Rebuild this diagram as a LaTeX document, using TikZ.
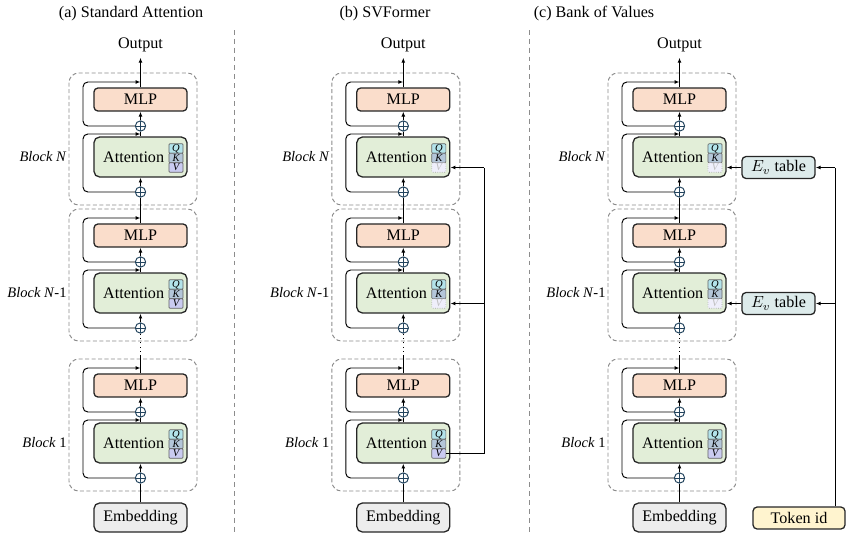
\documentclass[tikz,border=0pt]{standalone}
\usepackage{fontspec}
\setmainfont{Liberation Serif}
\usepackage{amsmath}
\usetikzlibrary{arrows.meta,positioning,calc}

\definecolor{mlpfill}{HTML}{FADDCB}
\definecolor{attnfill}{HTML}{E2EED8}
\definecolor{embfill}{HTML}{EDEDED}
\definecolor{evfill}{HTML}{DDEBEB}
\definecolor{tokfill}{HTML}{FFF4CF}
\definecolor{qfill}{HTML}{B3E3EA}
\definecolor{kfill}{HTML}{B4C6D9}
\definecolor{vfill}{HTML}{CACBF1}
\definecolor{plusc}{HTML}{23445E}

\begin{document}
\begin{tikzpicture}[x=0.62pt, y=-0.62pt,
  box/.style={draw=black!85, line width=0.8pt, rounded corners=2.5pt, minimum width=57.7pt, inner sep=0pt},
  mlpbox/.style={box, fill=mlpfill, minimum height=14.3pt},
  attnbox/.style={box, fill=attnfill, minimum height=24.8pt, rounded corners=3.5pt},
  embbox/.style={box, fill=embfill, minimum height=18pt, rounded corners=3.5pt},
  evbox/.style={box, fill=evfill, minimum width=45.3pt, minimum height=13.6pt},
  tokbox/.style={box, fill=tokfill, minimum width=57pt, minimum height=13.6pt},
  qkv/.style={draw=black!60, line width=0.4pt, rounded corners=0.6pt, minimum width=8.7pt, minimum height=5.9pt, inner sep=0pt, font=\fontsize{6.5}{6.5}\selectfont\itshape},
  vbox/.style={qkv, fill=vfill},
  vfade/.style={qkv, draw=black!35, densely dotted, fill=vfill!30, text=black!25},
  plus/.style={circle, draw=plusc, line width=0.6pt, minimum size=6.4pt, inner sep=0pt,
    path picture={\draw[plusc, line width=0.6pt] (path picture bounding box.north) -- (path picture bounding box.south)
      (path picture bounding box.west) -- (path picture bounding box.east);}},
  blk/.style={draw=black!45, dash pattern=on 2.5pt off 1.5pt, line width=0.6pt, rounded corners=6pt},
  sep/.style={draw=black!45, dash pattern=on 3pt off 2.5pt, line width=0.6pt},
  lbl/.style={font=\small, anchor=east, inner sep=1pt},
  arr/.style={-{Latex[length=3pt,width=2.4pt]}, line width=0.6pt},
  ln/.style={line width=0.6pt}
]
\useasboundingbox (0,0) rectangle (852,540);

% titles and separators
\node (ttl-a) at (131,14) {(a) Standard Attention};
\node (ttl-b) at (385,14) {(b) SVFormer};
\node (ttl-c) at (594,14) {(c) Bank of Values};
\draw[sep] (234,30) -- (234,532);
\draw[sep] (529,30) -- (529,532);

% three stacks of blocks
\foreach \p/\cx/\fd in {a/140.5/0, b/403.3/1, c/679.5/1} {
  \foreach \b/\m/\vk/\txt in {top/88/1/{\textit{Block N}}, mid/224/1/{\textit{Block N}-1}, one/374/0/{\textit{Block} 1}} {
    \draw[blk] (\cx-71.5,\m-15) rectangle (\cx+56.5,\m+117);
    \node[mlpbox] (mlp-\p\b) at (\cx,\m+11.5) {MLP};
    \node[plus] (pa-\p\b) at (\cx,\m+38) {};
    \node[attnbox] (attn-\p\b) at (\cx,\m+69) {Attention\kern8.5pt};
    \node[plus] (pb-\p\b) at (\cx,\m+104) {};
    \node[qkv, fill=qfill] (q-\p\b) at (\cx+35.5,\m+60.5) {Q};
    \node[qkv, fill=kfill] (k-\p\b) at (\cx+35.5,\m+70) {K};
    \pgfmathtruncatemacro\fade{\fd*\vk}
    \ifnum\fade=1 \tikzset{vst/.style={vfade}}\else\tikzset{vst/.style={vbox}}\fi
    \node[vst] (v-\p\b) at (\cx+35.5,\m+79.5) {V};
    \node[lbl] (lbl-\p\b) at (\cx-72,\m+69) {\txt};
    \coordinate (ina-\p\b) at (\cx,\m-6);
    \coordinate (inb-\p\b) at (\cx,\m+46);
    \draw[arr] (pb-\p\b) -- (attn-\p\b);
    \draw[ln] (attn-\p\b) -- (pa-\p\b);
    \draw[arr] (pa-\p\b) -- (mlp-\p\b);
    \draw[arr, rounded corners=3pt] (pa-\p\b.west) -| (\cx-57.5,\m-6) -- (ina-\p\b);
    \draw[arr, rounded corners=3pt] (pb-\p\b.west) -| (\cx-57.5,\m+46) -- (inb-\p\b);
  }
  \node (out-\p) at (\cx,45) {Output};
  \node[embbox] (emb-\p) at (\cx,517.5) {Embedding};
  \coordinate (gap-\p) at (\cx,356);
  \draw[arr] (mlp-\p top) -- (out-\p);
  \draw[ln] (mlp-\p mid) -- (pb-\p top);
  \draw[ln] (mlp-\p one) -- (gap-\p);
  \draw[ln, dotted] (gap-\p) -- (pb-\p mid);
  \draw[ln] (emb-\p) -- (pb-\p one);
}

% SVFormer: values of block 1 shared upward
\coordinate (svbot) at (484,453.5);
\coordinate (svmid) at (484,303.5);
\coordinate (svtop) at (484,167.5);
\draw[ln] (v-bone.east) -- (svbot) -- (svtop);
\draw[arr] (svtop) -- (svtop -| attn-btop.east);
\draw[arr] (svmid) -- (svmid -| attn-bmid.east);

% Bank of values
\node[evbox] (ev-top) at (778.5,167.5) {$E_v$ table};
\node[evbox] (ev-mid) at (778.5,303.5) {$E_v$ table};
\node[tokbox] (tok) at (799,518) {Token id};
\coordinate (tktop) at (835,167.5);
\coordinate (tkmid) at (835,303.5);
\draw[arr] (ev-top) -- (ev-top -| attn-ctop.east);
\draw[arr] (ev-mid) -- (ev-mid -| attn-cmid.east);
\draw[ln] (tok.north -| tktop) -- (tktop);
\draw[arr] (tktop) -- (ev-top);
\draw[arr] (tkmid) -- (ev-mid);

\end{tikzpicture}
\end{document}
